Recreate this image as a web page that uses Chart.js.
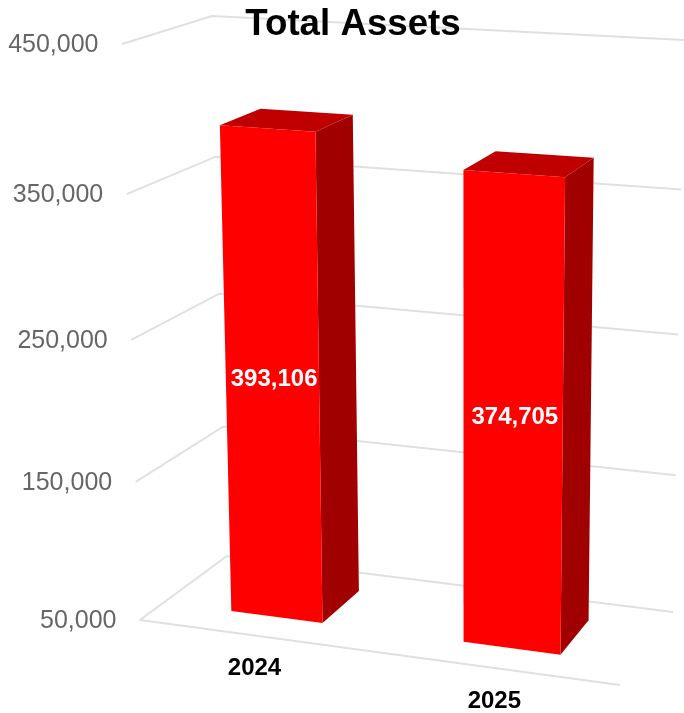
<!DOCTYPE html>
<html>
<head>
<meta charset="utf-8">
<style>html,body{margin:0;padding:0;background:#fff}canvas{display:block}</style>
<script src="https://cdn.jsdelivr.net/npm/chart.js@4"></script>
</head>
<body>
<canvas id="c" width="684" height="713"></canvas>
<script>
const categories = ['2024', '2025'];
const totalAssets = [393106, 374705];
const yTickValues = [50000, 150000, 250000, 350000, 450000];

const FONT = '"Liberation Sans", Arial, sans-serif';
// Perspective frame of the 3D box: corners [bottom-left, bottom-right, top-right, top-left]
const FRONT_PLANE = [[140, 620], [620, 685], [630, 74], [122, 44]];
const BACK_PLANE = [[227, 556], [673, 612], [684, 40], [212, 16]];
const BAR_Z = [0.28, 0.76];

function quadMap(q) {
  const [[x0, y0], [x1, y1], [x2, y2], [x3, y3]] = q;
  const dx1 = x1 - x2, dx2 = x3 - x2, sx = x0 - x1 + x2 - x3;
  const dy1 = y1 - y2, dy2 = y3 - y2, sy = y0 - y1 + y2 - y3;
  const den = dx1 * dy2 - dx2 * dy1;
  const g = (sx * dy2 - dx2 * sy) / den, h = (dx1 * sy - sx * dy1) / den;
  const a = x1 - x0 + g * x1, b = x3 - x0 + h * x3, d = y1 - y0 + g * y1, e = y3 - y0 + h * y3;
  return (u, v) => {
    const w = g * u + h * v + 1;
    return [(a * u + b * v + x0) / w, (d * u + e * v + y0) / w];
  };
}
const frontMap = quadMap(FRONT_PLANE), backMap = quadMap(BACK_PLANE);
function project(u, v, z) {
  const f = frontMap(u, v), b = backMap(u, v);
  return [f[0] + (b[0] - f[0]) * z, f[1] + (b[1] - f[1]) * z];
}
function poly(ctx, pts, fill) {
  ctx.beginPath();
  pts.forEach((p, i) => i ? ctx.lineTo(p[0], p[1]) : ctx.moveTo(p[0], p[1]));
  ctx.closePath();
  ctx.fillStyle = fill;
  ctx.fill();
}
function path(ctx, pts) {
  ctx.beginPath();
  pts.forEach((p, i) => i ? ctx.lineTo(p[0], p[1]) : ctx.moveTo(p[0], p[1]));
  ctx.stroke();
}

const box3d = {
  id: 'box3d',
  beforeDraw(chart) {
    const { ctx, chartArea: a, scales: { x, y } } = chart;
    const U = px => (px - a.left) / (a.right - a.left);
    const V = py => (a.bottom - py) / (a.bottom - a.top);
    ctx.save();
    // grid: left wall + back wall, floor front edge
    ctx.strokeStyle = '#e0e0e0';
    ctx.lineWidth = 2;
    y.ticks.forEach(t => {
      const v = V(y.getPixelForValue(t.value));
      path(ctx, [project(0, v, 0), project(0, v, 1), project(1, v, 1)]);
    });
    path(ctx, [project(0, 0, 0), project(1, 0, 0)]);

    // y tick labels
    ctx.font = '25px ' + FONT;
    ctx.fillStyle = '#666666';
    ctx.textAlign = 'right';
    ctx.textBaseline = 'middle';
    y.ticks.forEach(t => {
      const p = project(0, V(y.getPixelForValue(t.value)), 0);
      ctx.fillText(t.label, p[0] - 23.5, p[1] + 1);
    });

    // category labels
    ctx.font = 'bold 24px ' + FONT;
    ctx.fillStyle = '#000000';
    ctx.textAlign = 'center';
    categories.forEach((c, i) => {
      const p = project(U(x.getPixelForTick(i)), 0, 0);
      ctx.fillText(c, p[0], p[1] + 33);
    });
    ctx.restore();
  },
  beforeDatasetsDraw(chart) {
    const { ctx, chartArea: a, scales: { y } } = chart;
    const U = px => (px - a.left) / (a.right - a.left);
    const V = py => (a.bottom - py) / (a.bottom - a.top);
    const ds = chart.data.datasets[0];
    ctx.save();
    const meta = chart.getDatasetMeta(0);
    meta.data.forEach((bar, i) => {
      const u0 = U(bar.x - bar.width / 2), u1 = U(bar.x + bar.width / 2);
      const vb = V(y.getBasePixel()), vt = V(bar.y);
      const [z0, z1] = BAR_Z;
      poly(ctx, [project(u0, vt, z0), project(u1, vt, z0), project(u1, vt, z1), project(u0, vt, z1)], ds.topColor);
      poly(ctx, [project(u1, vb, z0), project(u1, vb, z1), project(u1, vt, z1), project(u1, vt, z0)], ds.sideColor);
      poly(ctx, [project(u0, vb, z0), project(u1, vb, z0), project(u1, vt, z0), project(u0, vt, z0)], ds.backgroundColor);

      const c = project((u0 + u1) / 2, (vb + vt) / 2, z0);
      ctx.font = 'bold 24px ' + FONT;
      ctx.fillStyle = '#ffffff';
      ctx.textAlign = 'center';
      ctx.textBaseline = 'middle';
      ctx.fillText(totalAssets[i].toLocaleString('en-US'), c[0] + 2, c[1] + 1);
    });
    ctx.restore();
    return false;
  }
};

new Chart(document.getElementById('c'), {
  type: 'bar',
  plugins: [box3d],
  data: {
    labels: categories,
    datasets: [{
      label: 'Total Assets',
      data: totalAssets,
      backgroundColor: '#ff0000',
      topColor: '#c00000',
      sideColor: '#a00000',
      barPercentage: 0.4,
      categoryPercentage: 1
    }]
  },
  options: {
    responsive: false,
    animation: false,
    layout: { padding: { left: 22 } },
    plugins: {
      legend: { display: false },
      tooltip: { enabled: false },
      title: {
        display: true,
        text: 'Total Assets',
        fullSize: false,
        color: '#000000',
        font: { family: FONT, size: 36.7, weight: 'bold' },
        padding: { top: 3, bottom: 0 }
      }
    },
    scales: {
      x: { display: false },
      y: {
        display: false,
        min: 50000,
        max: 450000,
        afterBuildTicks: s => { s.ticks = yTickValues.map(v => ({ value: v })); },
        ticks: { callback: v => v.toLocaleString('en-US') }
      }
    }
  }
});
</script>
</body>
</html>
